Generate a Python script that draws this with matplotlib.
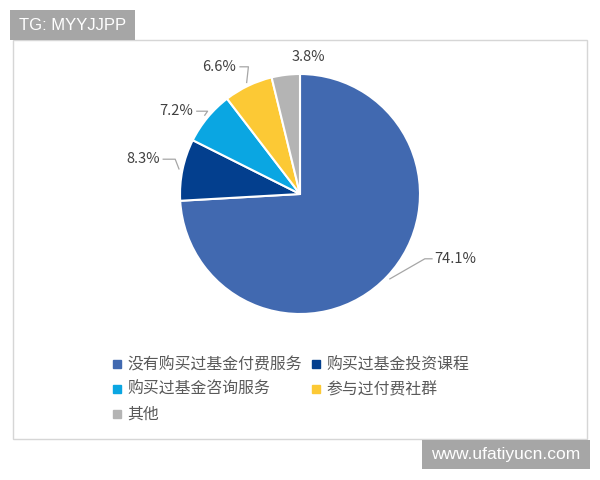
import matplotlib.pyplot as plt
import matplotlib.patches as mpatches
from matplotlib.lines import Line2D
import numpy as np

plt.rcParams['font.family'] = ['Noto Sans CJK SC', 'DejaVu Sans']

# data
categories = ['没有购买过基金付费服务', '购买过基金投资课程', '购买过基金咨询服务', '参与过付费社群', '其他']
shares = [74.1, 8.3, 7.2, 6.6, 3.8]
labels = ['74.1%', '8.3%', '7.2%', '6.6%', '3.8%']
colors = ['#4169B0', '#033F8E', '#0AA6E2', '#FCC935', '#B4B4B4']

W, H = 600, 480
fig = plt.figure(figsize=(6, 4.8), dpi=100)

def px(x, y):
    return x / W, 1 - y / H

# chart frame
fig.patches.append(mpatches.Rectangle(px(13, 439), 574 / W, 399 / H, transform=fig.transFigure,
                                      fill=False, edgecolor='#D6D6D6', lw=1.0))

# pie, centre (300,194) px, radius 120 px
ax = fig.add_axes([px(180, 0)[0], px(0, 314)[1], 240 / W, 240 / H])
wedges, _ = ax.pie(shares, colors=colors, startangle=90, counterclock=False,
                   wedgeprops=dict(edgecolor='white', linewidth=1.5))
ax.set_xlim(-1, 1)
ax.set_ylim(-1, 1)
ax.set_aspect('auto')
ax.axis('off')

# label positions (pie radius units) and leader elbows
label_pos = [(1.12, -0.54), (-1.17, 0.29), (-0.89, 0.69), (-0.53, 1.06), (0.07, 1.14)]
elbows = [(1.04, -0.54), (-1.04, 0.29), (-0.77, 0.69), (-0.43, 1.06), None]
ha = ['left', 'right', 'right', 'right', 'center']
for w, lab, pos, elb, h in zip(wedges, labels, label_pos, elbows, ha):
    mid = np.deg2rad((w.theta1 + w.theta2) / 2)
    ex, ey = np.cos(mid) * 1.03, np.sin(mid) * 1.03
    if elb is not None:
        if h == 'left':
            xs = [ex, elb[0], pos[0] - 0.02]
            ys = [ey, elb[1], pos[1]]
        else:
            xs = [pos[0] + 0.03, elb[0], ex]
            ys = [pos[1], elb[1], ey]
        ax.plot(xs, ys, color='#A6A6A6', lw=0.9, clip_on=False)
    ax.text(pos[0], pos[1], lab, ha=h, va='center', fontsize=10.5, color='#404040', clip_on=False)

# legend (row-major order like the original)
order = [0, 2, 4, 1, 3]
handles = [Line2D([], [], marker='s', linestyle='none', markersize=5.5,
                  markerfacecolor=colors[i], markeredgecolor=colors[i]) for i in order]
fig.legend(handles, [categories[i] for i in order], ncol=2, loc='upper left',
           bbox_to_anchor=px(97, 342), frameon=False, fontsize=11.4, labelcolor='#595959',
           handlelength=0.7, handletextpad=0.3, columnspacing=0.55, labelspacing=0.5)

# watermarks
fig.patches.append(mpatches.Rectangle(px(10, 40), 125 / W, 30 / H, transform=fig.transFigure,
                                      facecolor='#A6A6A6', edgecolor='none'))
fig.text(*px(73, 25), 'TG: MYYJJPP', color='white', fontsize=12, va='center', ha='center',
         family=['Liberation Sans'])
fig.patches.append(mpatches.Rectangle(px(422, 469), 168 / W, 29 / H, transform=fig.transFigure,
                                      facecolor='#A6A6A6', edgecolor='none'))
fig.text(*px(506, 455), 'www.ufatiyucn.com', color='white', fontsize=12.5, va='center', ha='center',
         family=['Liberation Sans'])

fig.savefig('out.png', dpi=100)
